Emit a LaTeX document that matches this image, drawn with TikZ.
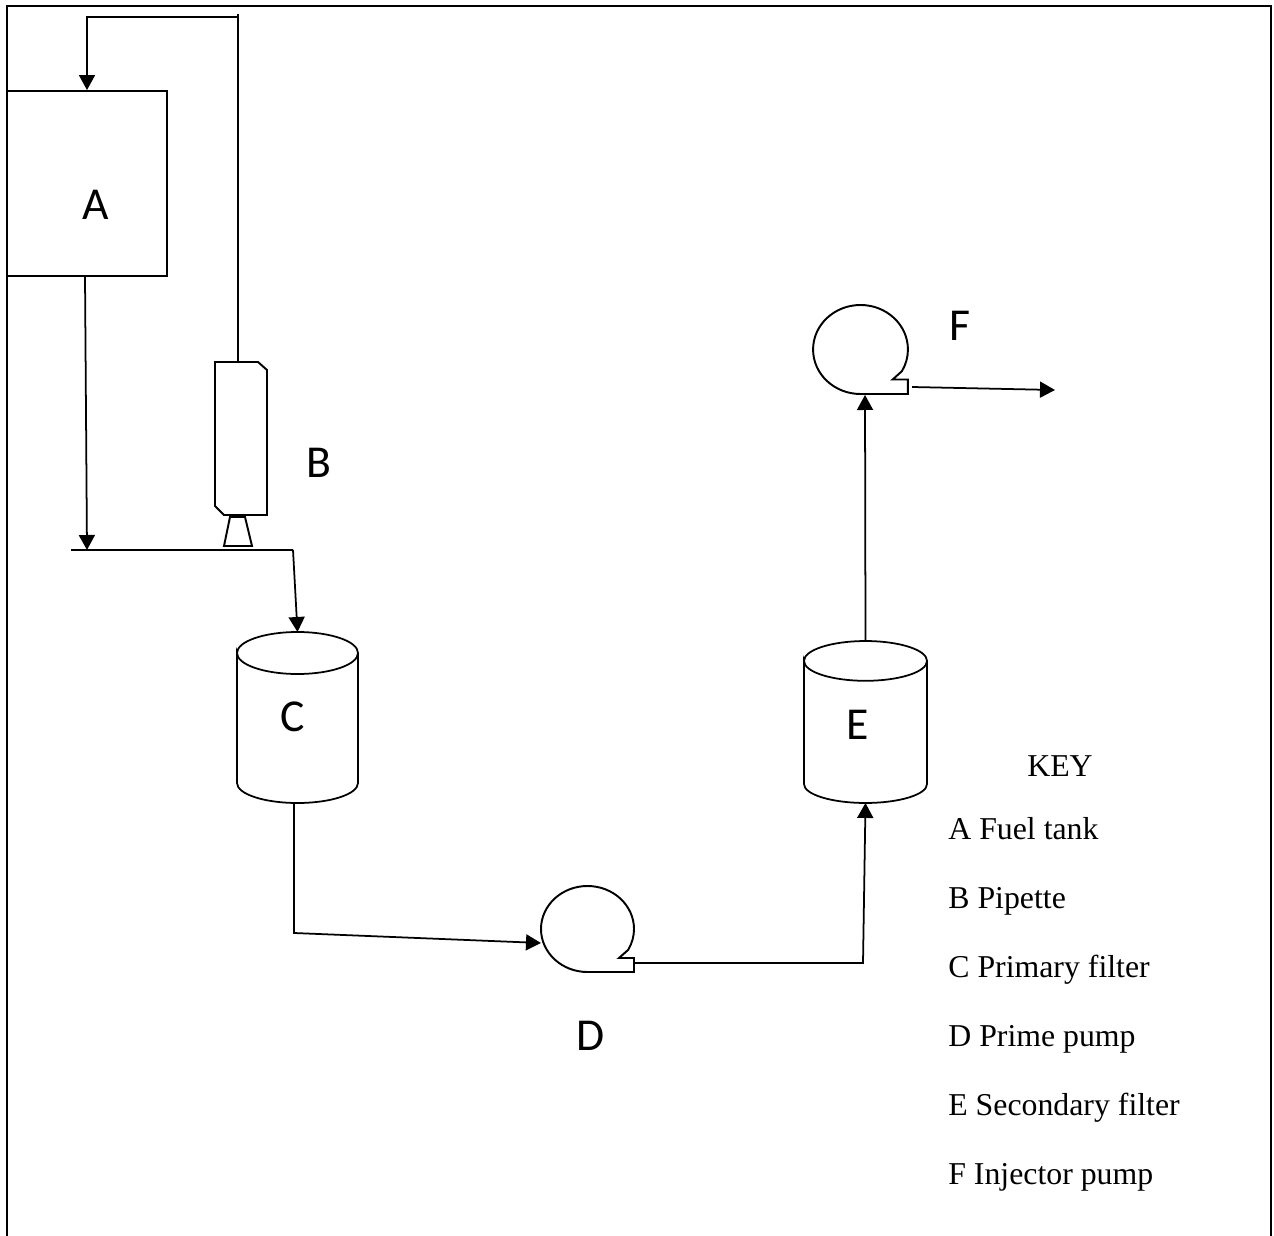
\documentclass[tikz,border=0pt]{standalone}
\usepackage{fontspec}
\setmainfont{Liberation Serif}
\newfontfamily\labelfont{Carlito}
\usepackage{tikz}
\usetikzlibrary{arrows.meta, positioning, calc}
\tikzset{
  box/.style={rectangle, draw=black, line width=1.1pt, inner sep=0pt},
  letter/.style={font=\labelfont\fontsize{26}{30}\selectfont, inner sep=0pt},
  keytext/.style={font=\fontsize{18.1}{20}\selectfont, inner sep=0pt, anchor=base},
  keyitem/.style={keytext, anchor=base west},
  arrow/.style={-{Triangle[length=0.3cm,width=0.32cm]}, line width=1pt},
  line/.style={line width=1pt},
  pump/.pic={
    \draw[line width=1.1pt] (0,43) arc[start angle=90, end angle=389, x radius=46.5, y radius=43]
      -- (31.5,29) -- (46.5,29) -- (46.5,43) -- cycle;
    \coordinate (-tail) at (46.5,34);
  },
  filter/.pic={
    \draw[line width=1pt] (-60.5,-64.5) arc[start angle=180, end angle=540, x radius=60.5, y radius=21]
      -- (-60.5,65.5) arc[start angle=180, end angle=0, x radius=60.5, y radius=20]
      -- (60.5,-64.5);
    \coordinate (-top) at (0,-85.5);
    \coordinate (-bottom) at (0,85.5);
  }
}

\begin{document}
\begin{tikzpicture}[x=0.02cm, y=-0.02cm]
  \useasboundingbox (0,0) rectangle (1274,1236);
  % outer frame, open at the bottom
  \draw[line width=1.1pt] (7,1236) -- (7,6) -- (1271,6) -- (1271,1236);

  % tank and pipette
  \node[box, minimum width=3.2cm, minimum height=3.7cm] (tankA) at (87,183.5) {};
  \node[letter] (labA) at (96,205) {A};
  \draw[line width=1.1pt] (215,362) -- (258,362) -- (267,370) -- (267,515) -- (224,515) -- (215,506) -- cycle;
  \coordinate (pipetteTop) at (238,362);
  \draw[line width=1.1pt] (230,517) -- (245,517) -- (252,546) -- (224,546) -- cycle;
  \node[letter] (labB) at (319,463) {B};

  % filters
  \pic (filterC) at (297.5,717.5) {filter};
  \node[letter] (labC) at (293,717) {C};
  \pic[xscale=1.017, yscale=0.947] (filterE) at (865.5,722) {filter};
  \node[letter] (labE) at (858,725) {E};

  % pumps
  \pic (pumpD) at (587.5,929) {pump};
  \node[letter] (labD) at (591,1036) {D};
  \pic[xscale=1.02, yscale=1.035] (pumpF) at (860.5,349.5) {pump};
  \node[letter] (labF) at (960,326) {F};

  % pipe work
  \coordinate (retCorner) at (87,17);
  \coordinate (retTop) at (238,14);
  \coordinate (hdrStart) at (71,550);
  \coordinate (hdrJoin) at (87,550);
  \coordinate (hdrEnd) at (293,550);
  \coordinate (tankOut) at (85,276);
  \coordinate (cOut) at (294,803);
  \coordinate (cBend) at (294,933);
  \coordinate (dIn) at (541,943);
  \coordinate (dBend) at (863,963);
  \coordinate (fIn) at (865,395);
  \coordinate (fOut) at (912,387);
  \coordinate (fEnd) at (1055,390);
  \draw[line] (pipetteTop) -- (retTop);
  \draw[arrow] (238,17) -- (retCorner) -- (tankA.north);
  \draw[arrow] (tankOut) -- (hdrJoin);
  \draw[line, line width=1.1pt] (hdrStart) -- (hdrEnd);
  \draw[arrow] (hdrEnd) -- (filterC-top);
  \draw[arrow] (cOut) -- (cBend) -- (dIn);
  \draw[arrow] (pumpD-tail) -- (dBend) -- (filterE-bottom);
  \draw[arrow] (filterE-top) -- (fIn);
  \draw[arrow] (fOut) -- (fEnd);

  % key
  \node[keytext] (keyTitle) at (1060,776) {KEY};
  \node[keyitem] (keyA) at (948,839) {A Fuel tank};
  \node[keyitem] (keyB) at (948,908) {B Pipette};
  \node[keyitem] (keyC) at (948,977) {C Primary filter};
  \node[keyitem] (keyD) at (948,1046) {D Prime pump};
  \node[keyitem] (keyE) at (948,1115) {E Secondary filter};
  \node[keyitem] (keyF) at (948,1184) {F Injector pump};
\end{tikzpicture}
\end{document}
